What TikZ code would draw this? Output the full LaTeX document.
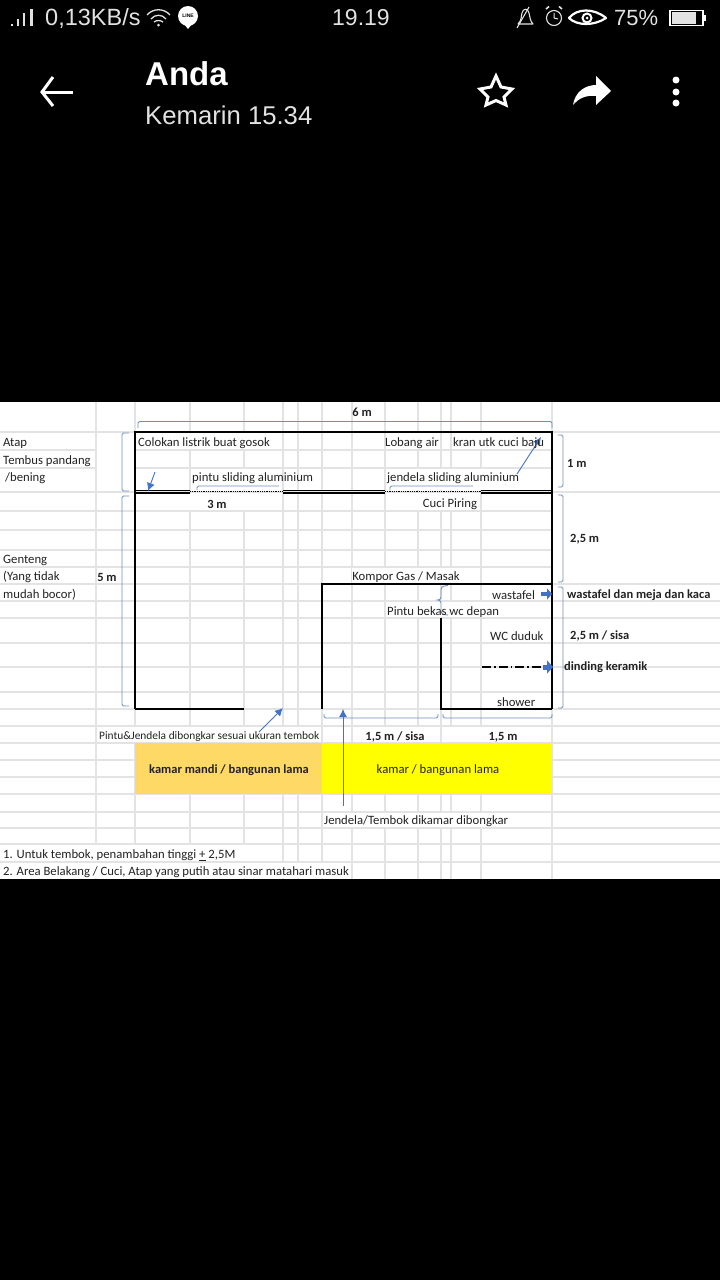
\documentclass[tikz,border=0pt]{standalone}
\usepackage{fontspec}
\usepackage{amsmath}
\setmainfont{Carlito}
\newfontfamily\phonefont{Liberation Sans}
\usetikzlibrary{arrows.meta}
\definecolor{gridgray}{HTML}{E3E3E3}
\definecolor{linkblue}{HTML}{4472C4}
\definecolor{bracketblue}{HTML}{6F8FBF}
\definecolor{sheettext}{HTML}{222222}
\definecolor{barwhite}{HTML}{E2E2E2}
\definecolor{oldbath}{HTML}{FFD966}
\definecolor{oldroom}{HTML}{FFFF00}
\tikzset{
sheetlabel/.style={font=\fontsize{12.7}{15}\selectfont,text=sheettext,inner sep=0pt,yshift=-1pt},
boldlabel/.style={sheetlabel,font=\fontsize{12.5}{15}\selectfont\bfseries},
wall/.style={line width=2pt,black},
bracket/.style={bracketblue,line width=.9pt,rounded corners=1.5pt},
pointer/.style={linkblue,line width=.9pt,-{Latex[length=8pt,width=8pt]}},
blockarrow/.style={linkblue,line width=5pt,-{Triangle[length=6pt,width=13pt]}},
phonetext/.style={text=barwhite,inner sep=0pt,anchor=west},
}
\begin{document}
\begin{tikzpicture}[x=1pt,y=-1pt]
\useasboundingbox (0,0) rectangle (720,1280);
\fill[black] (0,0) rectangle (720,1280);
\fill[white] (0,402) rectangle (720,879);
\foreach \gx in {96,135,190,244,283,298,322,352,385,418,441,451,481,552}
  \draw[gridgray,line width=1.1pt] (\gx,402)--(\gx,879);
\foreach \gy in {432,450,468,492,511,530,550,567,584,601,618,643,667,692,709,726,743,760,777,794,812,828,844,862}
  \draw[gridgray,line width=1.1pt] (0,\gy)--(720,\gy);
\foreach \xa/\ya/\xb/\yb in {97/433/134/491,136/433/282/449,386/433/440/449,452/433/551/449,191/469/282/490,386/469/551/490,136/493/282/510,386/493/480/510,352/568/480/583,386/602/551/617,97/727/321/742,353/727/440/742,442/727/551/742,323/813/551/827,1/845/282/861,1/863/351/878,553/433/720/491,553/493/720/583,553/585/720/600}
  \fill[white] (\xa,\ya) rectangle (\xb,\yb);
\fill[white] (553,402) rectangle (720,431);
\fill[white] (0,402) rectangle (95,431);

\fill[oldbath] (135,743) rectangle (322,794);
\fill[oldroom] (322,743) rectangle (552,794);

\draw[wall] (135,709)--(135,432)--(552,432)--(552,709);
\draw[black,line width=.8pt] (135,490.5)--(190,490.5);
\draw[wall] (135,492.5)--(190,492.5);
\draw[black,line width=.8pt] (283,490.5)--(385,490.5);
\draw[wall] (283,492.5)--(385,492.5);
\draw[black,line width=.8pt] (481,490.5)--(552,490.5);
\draw[wall] (481,492.5)--(552,492.5);
\draw[densely dotted,line width=.8pt] (190,491.5)--(283,491.5);
\draw[densely dotted,line width=.8pt] (385,491.5)--(481,491.5);
\draw[wall] (135,709)--(244,709);
\draw[wall] (322,709)--(322,584)--(552,584);
\draw[wall] (441,618)--(441,709)--(552,709);
\draw[line width=1.5pt,dash pattern=on 9pt off 3pt on 1.5pt off 3pt] (482,667)--(541,667);

\draw[bracket] (138,428)--(138,421.5)--(552,421.5)--(552,428);
\draw[bracket] (129,433)--(122,433)--(122,491)--(129,491);
\draw[bracket] (129,496)--(122,496)--(122,706)--(129,706);
\draw[bracket] (558,435)--(563,435)--(563,487)--(558,487);
\draw[bracket] (558,495)--(563,495)--(563,582)--(558,582);
\draw[bracket] (558,587)--(563,587)--(563,708)--(558,708);
\draw[bracket] (324,714)--(324,718)--(438,718)--(438,714);
\draw[bracket] (443,714)--(443,718)--(552,718)--(552,714);
\draw[bracket] (197,490)--(197,486)--(279,486);
\draw[bracket] (390,490)--(390,486)--(473,486);
\draw[bracket,rounded corners=3pt] (448,585.5)--(441,586.5)--(441,600)--(434,600)--(441,600)--(441,614)--(448,615);

\coordinate (gosokTail) at (155,472);
\coordinate (gosokTip) at (148,491);
\coordinate (kranTail) at (517,474);
\coordinate (kranTip) at (541,437);
\coordinate (bongkarTail) at (259,732);
\coordinate (bongkarTip) at (283,708);
\coordinate (kamarTail) at (343,806);
\coordinate (kamarTip) at (343,709);
\coordinate (wastafelTail) at (541,594);
\coordinate (wastafelTip) at (552,594);
\coordinate (keramikTail) at (543,667);
\coordinate (keramikTip) at (553,667);
\draw[pointer] (gosokTail)--(gosokTip);
\draw[pointer] (kranTail)--(kranTip);
\draw[pointer] (bongkarTail)--(bongkarTip);
\draw[pointer] (kamarTail)--(kamarTip);
\draw[blockarrow,line width=4pt,-{Triangle[length=5pt,width=11pt]}] (wastafelTail)--(wastafelTip);
\draw[blockarrow] (keramikTail)--(keramikTip);

\node[boldlabel] (widthTotal) at (362,411) {6 m};
\node[sheetlabel,anchor=west] (atap) at (3,442) {Atap};
\node[sheetlabel,anchor=west] (tembus) at (3,460) {Tembus pandang};
\node[sheetlabel,anchor=west] (bening) at (5,477) {/bening};
\node[sheetlabel,anchor=west] (genteng) at (3,559) {Genteng};
\node[sheetlabel,anchor=west] (tidak) at (3,576) {(Yang tidak};
\node[sheetlabel,anchor=west] (bocor) at (3,594) {mudah bocor)};
\node[boldlabel] (lengthFive) at (107,576) {5 m};
\node[sheetlabel,anchor=west] (colokan) at (138,442) {Colokan listrik buat gosok};
\node[sheetlabel,anchor=west] (lobang) at (385,442) {Lobang air};
\node[sheetlabel,anchor=west] (kran) at (453,442) {kran utk cuci baju};
\node[sheetlabel,anchor=west] (pintuSliding) at (192,477) {pintu sliding aluminium};
\node[sheetlabel,anchor=west] (jendelaSliding) at (387,477) {jendela sliding aluminium};
\node[boldlabel] (widthThree) at (217,503) {3 m};
\node[sheetlabel] (cuci) at (450,503) {Cuci Piring};
\node[boldlabel,anchor=west] (heightOne) at (567,462) {1 m};
\node[boldlabel,anchor=west] (heightMid) at (570,538) {2,5 m};
\node[sheetlabel] (kompor) at (406,576) {Kompor Gas / Masak};
\node[sheetlabel,anchor=west] (wastafel) at (492,594) {wastafel};
\node[boldlabel,anchor=west] (wastafelNote) at (567,594) {wastafel dan meja dan kaca};
\node[sheetlabel,anchor=west] (pintuWc) at (387,611) {Pintu bekas wc depan};
\node[sheetlabel,anchor=west] (wcDuduk) at (490,635) {WC duduk};
\node[boldlabel,anchor=west] (heightSisa) at (570,635) {2,5 m / sisa};
\node[boldlabel,anchor=west] (keramik) at (564,666) {dinding keramik};
\node[sheetlabel,anchor=west] (shower) at (497,701) {shower};
\node[sheetlabel,anchor=west,font=\fontsize{11.4}{14}\selectfont] (bongkar) at (99,736) {Pintu\&Jendela dibongkar sesuai ukuran tembok};
\node[boldlabel] (widthSisa) at (395,736) {1,5 m / sisa};
\node[boldlabel] (widthRight) at (503,736) {1,5 m};
\node[boldlabel] (kamarMandi) at (229,769) {kamar mandi / bangunan lama};
\node[sheetlabel] (kamarLama) at (438,769) {kamar / bangunan lama};
\node[sheetlabel,anchor=west] (kamarBongkar) at (324,820) {Jendela/Tembok dikamar dibongkar};
\node[sheetlabel,anchor=west] (noteOne) at (3,854) {1. Untuk tembok, penambahan tinggi \underline{+} 2,5M};
\node[sheetlabel,anchor=west] (noteTwo) at (3,871) {2. Area Belakang / Cuci, Atap yang putih atau sinar matahari masuk};

\node[phonetext,font=\phonefont\fontsize{23.5}{26}\selectfont] (speed) at (45,18) {0,13KB/s};
\node[phonetext,font=\phonefont\fontsize{23}{26}\selectfont] (clock) at (332,18) {19.19};
\node[phonetext,font=\phonefont\fontsize{22}{26}\selectfont] (battery) at (614,18) {75\%};
\node[phonetext,text=white,font=\phonefont\bfseries\fontsize{33}{36}\selectfont] (sender) at (145,74) {Anda};
\node[phonetext,font=\phonefont\fontsize{25.7}{28}\selectfont] (stamp) at (145,115) {Kemarin 15.34};

\fill[barwhite] (11,24) rectangle (13,26);
\fill[barwhite] (17,19) rectangle (19,26);
\fill[barwhite] (23,13) rectangle (25,26);
\fill[barwhite] (30,9) rectangle (33,26);
\draw[barwhite,line width=1.3pt] (147,15) .. controls (153,8) and (164,8) .. (170,15);
\draw[barwhite,line width=1.3pt] (151,19) .. controls (155,14) and (162,14) .. (166,19);
\draw[barwhite,line width=1.3pt] (154,22) .. controls (157,20) and (160,20) .. (163,22);
\fill[barwhite] (158.5,25) circle (1.5);
\fill[white] (188,16) circle (10);
\fill[white] (184,24) -- (192,24) -- (188,29) -- cycle;
\node[text=black,inner sep=0pt,font=\phonefont\bfseries\fontsize{5}{5}\selectfont] (lineBadge) at (188,16) {LINE};

\draw[barwhite,line width=1.1pt,line join=round] (518,24) .. controls (522,20) and (521,16) .. (522,13) .. controls (523,8) and (528,8) .. (529,13) .. controls (530,17) and (530,21) .. (533,24) -- cycle;
\draw[barwhite,line width=1.1pt] (517,28) -- (529,7);
\draw[barwhite,line width=1.1pt] (554,18) circle (7.5);
\draw[barwhite,line width=1pt] (554,13) -- (554,18) -- (558,19);
\draw[barwhite,line width=1.6pt] (546,9) -- (549,6.5);
\draw[barwhite,line width=1.6pt] (562,9) -- (559,6.5);
\draw[white,line width=2.2pt,line join=round] (569,18) .. controls (577,8) and (594,8) .. (606,18) .. controls (594,26) and (577,26) .. cycle;
\draw[white,line width=2pt] (587,18) circle (4.5);
\fill[white] (587,18) circle (1.5);
\draw[white,line width=1.4pt] (670,10.5) rectangle (703,25.5);
\fill[barwhite] (672,12) rectangle (696,24);
\fill[white] (703,15) rectangle (705.5,21);

\draw[white,line width=3pt,line join=miter] (53,77) -- (42,92) -- (53,106);
\draw[white,line width=3pt] (42,92) -- (73,92);
\draw[white,line width=3pt,line join=miter] (496,76) -- (501,87) -- (512,89) -- (504,97) -- (506,105) -- (496,100.5) -- (486,105) -- (488,97) -- (480,89) -- (491,87) -- cycle;
\fill[white] (573,105) .. controls (575,92) and (585,85) .. (596,85) -- (596,76) -- (611,91) -- (596,105) -- (596,96) .. controls (586,95) and (579,98) .. (573,105) -- cycle;
\foreach \dotY in {80,92,103}
  \fill[white] (676,\dotY) circle (3.5);
\end{tikzpicture}
\end{document}
